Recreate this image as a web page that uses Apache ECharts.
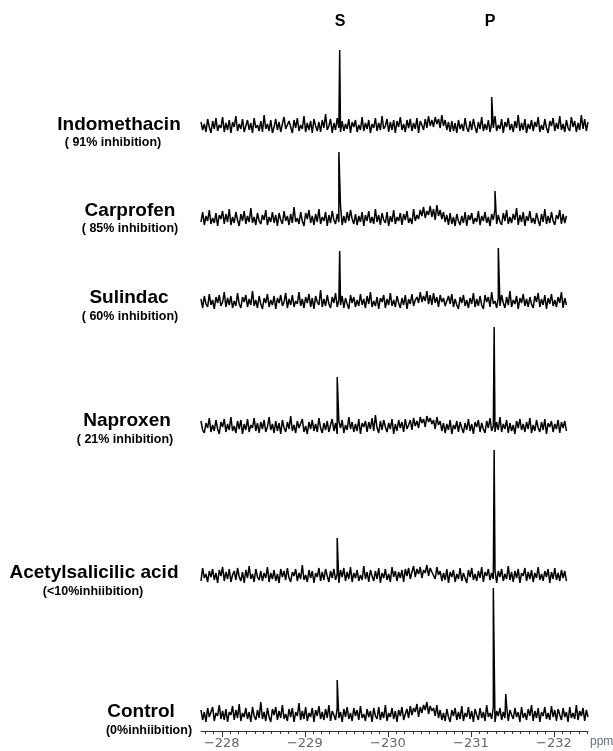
<!DOCTYPE html>
<html>
<head>
<meta charset="utf-8">
<script src="https://cdn.jsdelivr.net/npm/echarts@6/dist/echarts.min.js"></script>
<style>
  html, body { margin: 0; padding: 0; background: #fff; }
  #main { width: 613px; height: 751px; }
</style>
</head>
<body>
<div id="main"></div>
<script>
// chemical shift grid of the noise arrays (ppm)
var ppmStart = -227.75;
var ppmStep = 0.02;

var drugNames = ['Indomethacin', 'Carprofen', 'Sulindac', 'Naproxen', 'Acetylsalicilic acid', 'Control'];
var inhibition = ['( 91% inhibition)', '( 85% inhibition)', '( 60% inhibition)', '( 21% inhibition)', '(<10%inhiibition)', '(0%inhiibition)'];
var tickLabels = [-228, -229, -230, -231, -232];

// baseline noise (intensity units)
var indomethacinNoise = [
  3,-5,1,-7,6,-2,-8,4,-4,7,-6,0,-3,8,-7,2,-5,5,-8,3,
  -2,9,-6,1,-4,6,-7,-1,5,-5,2,-8,7,-3,0,-6,4,-7,10,-4,
  1,-6,5,-8,-2,6,-5,3,-7,1,8,-4,-6,4,-2,-8,5,-3,7,-6,
  0,-4,9,-7,2,-5,4,-8,6,-1,-6,3,-7,5,-3,11,-5,-1,6,-8,
  2,-5,7,-3,-7,4,-6,1,-4,6,-8,3,-2,5,-7,0,-5,8,-6,2,
  -4,5,-8,1,-3,7,-6,2,-5,9,-4,-1,6,-7,3,-5,5,-8,4,-2,
  8,-5,1,-7,5,-3,6,-6,2,-4,7,-8,4,0,-5,6,-3,9,-1,5,
  -2,8,1,6,-3,10,-1,5,-5,3,-7,4,-6,2,-8,5,-4,1,-6,7,
  -3,-7,4,-5,6,-2,-8,3,-4,8,-6,1,-5,5,-7,2,-3,9,-6,0,
  -4,6,-8,3,-2,7,-5,1,-7,4,-3,10,-6,2,-5,6,-8,1,-4,5,
  -6,3,-2,8,-7,0,-5,6,-3,-8,4,-1,7,-6,2,-4,9,-5,1,-7,
  5,-3,-6,8,-2,4,-7,2,-5,10,-4,6,-6,3
];
var carprofenNoise = [
  -4,6,-7,2,-3,8,-6,0,-5,5,-8,3,-1,7,-6,4,-4,9,-7,1,
  -5,6,-2,-8,4,-3,7,-6,2,-4,10,-5,1,-7,5,-3,-6,3,-2,8,
  -7,1,-4,6,-5,3,-8,5,-2,-6,7,-3,2,-7,4,-5,11,-4,0,-6,
  6,-3,-8,5,-1,8,-5,2,-7,4,-4,9,-6,1,-3,6,-8,3,-5,7,
  -2,-6,4,-4,12,-7,2,-5,6,-3,8,-1,-6,4,-7,2,-4,6,-8,3,
  -3,7,-5,1,-6,9,-4,3,-7,5,-2,-5,6,-8,2,-4,8,-6,1,-3,
  5,-7,4,-2,7,-5,0,-6,9,-3,3,-1,8,2,11,0,7,3,12,1,
  9,-2,13,2,8,-1,6,-4,3,-7,5,-6,1,-8,4,-3,-7,2,-5,6,
  -8,3,-2,5,-6,0,-4,7,-7,2,-3,6,-5,1,-8,4,-2,9,-6,3,
  -4,-7,5,-3,8,-6,1,-5,4,-2,10,-7,3,-4,6,-8,2,-3,7,-5,
  0,-6,5,-2,-8,4,-4,9,-6,2,-5,6,-3,-7,3,-1,8,-6,4,-5,
  2
];
var sulindacNoise = [
  2,-7,5,-3,-6,7,-4,1,-8,4,-2,6,-5,-1,9,-6,3,-4,5,-7,
  0,-5,8,-3,-7,4,-1,6,-6,2,-4,10,-5,1,-7,5,-3,-8,3,-2,
  7,-6,1,-4,5,-8,3,-2,6,-5,-1,8,-7,2,-4,6,-6,0,-3,9,
  -5,2,-7,4,-2,7,-6,3,-8,5,-1,-4,11,-6,2,-5,6,-3,-7,4,
  -2,8,-6,1,-4,5,-7,3,-3,-8,6,-2,4,-6,1,-5,7,-4,2,-7,
  5,-3,9,-6,0,-5,4,-8,3,-1,6,-7,2,-4,8,-5,1,-6,5,-2,
  -7,3,-4,6,-8,2,-3,7,-5,1,4,-2,9,-1,5,0,10,-3,6,-4,
  8,-2,4,-6,6,-1,3,-5,-7,5,-3,7,-6,2,-4,-8,4,-2,6,-5,
  1,-7,3,-3,8,-6,2,-5,5,-4,-8,6,-1,4,-6,9,-3,0,-7,3,
  -5,6,-2,-7,4,-4,10,-6,1,-3,5,-8,3,-2,7,-5,2,-6,4,-3,
  -7,5,-1,8,-6,2,-4,6,-8,3,-3,7,-5,1,-6,4,-2,9,-7,3,
  -4
];
var naproxenNoise = [
  5,-4,-7,3,-2,8,-6,1,-5,6,-3,-8,4,-1,7,-6,2,-4,9,-5,
  0,-7,5,-3,6,-8,2,-4,7,-6,1,-2,8,-5,3,-7,4,-3,6,-6,
  -1,9,-4,2,-7,5,-5,3,-8,6,-2,-6,4,-3,10,-5,1,-7,5,-2,
  -4,7,-6,0,-8,4,-3,6,-5,2,-6,8,-2,-7,3,-4,5,-6,1,7,
  -5,3,-8,5,-2,6,-7,1,-4,9,-3,4,-6,2,-5,7,-8,3,-1,5,
  -6,4,-3,8,-5,11,-2,-7,5,-4,6,-1,-6,3,-3,7,-8,2,-5,6,
  -2,4,-6,7,-3,1,6,-4,8,0,5,-2,9,3,7,-1,10,4,8,2,
  6,-3,9,1,5,-5,3,-7,2,-4,6,-8,1,-3,5,-6,4,-2,-7,3,
  -4,7,-5,2,-8,4,-1,6,-6,3,-3,-7,5,-2,8,-5,0,-6,4,-4,
  9,-6,2,-3,6,-7,3,-5,1,-8,5,-2,7,-4,2,-6,4,-3,8,-7,
  1,-5,6,-2,-6,4,-4,7,-8,3,-1,5,-6,2,-3,6,-7,4,-2,5,
  -5
];
var aspirinNoise = [
  -6,7,-3,1,-7,4,-2,6,-5,2,-8,5,-1,8,-6,3,-4,6,-7,0,
  4,-5,7,-2,-6,3,-8,5,-3,9,-4,1,-7,6,-2,-5,4,-6,2,-3,
  8,-7,2,-4,5,-6,1,-8,6,-2,4,-5,7,-3,-7,3,-1,6,-6,2,
  -4,10,-5,0,-7,5,-3,4,-8,2,-2,7,-6,3,-5,6,-1,-7,4,-3,
  6,-5,1,-8,5,-2,7,-6,3,-4,8,-7,2,-3,5,-6,0,-5,9,-4,
  3,-7,5,-1,-6,4,-4,7,-8,2,-3,6,-5,1,-7,8,-2,4,-6,3,
  -3,5,-7,6,-1,7,-4,3,9,-2,6,1,8,-3,5,2,10,-1,7,3,
  5,-4,8,0,4,-6,2,-5,6,-8,3,-2,5,-7,1,-4,7,-6,2,-3,
  -8,5,-2,7,-5,1,-6,4,-3,8,-7,3,-1,6,-5,2,-4,5,-8,4,
  -2,6,-6,1,-4,9,-5,3,-7,4,-3,6,-8,2,-1,7,-6,3,-4,5,
  -7,2,-3,8,-5,1,-6,4,-2,6,-8,3,-4,7,-5,2,-6,5,-3,4,
  -6
];
var controlNoise = [
  4,-6,2,-8,6,-3,-5,7,-7,1,-2,9,-5,3,-6,5,-8,2,-1,8,
  -6,4,-4,10,-7,1,-3,6,-5,2,-8,7,-2,-6,4,-4,12,-5,2,-7,
  6,-3,-8,5,-1,7,-6,3,-4,9,-5,0,-7,5,-3,6,-8,2,-2,11,
  -6,3,-5,7,-7,1,-3,6,-8,4,-2,8,-5,2,-6,5,-4,9,-7,3,
  -1,-6,6,-4,2,-8,5,-3,7,-5,1,-7,6,-2,4,-6,8,-4,0,-7,
  5,-3,3,-8,6,-2,-5,7,-6,2,-4,9,-7,1,-3,6,-5,3,-8,4,
  -2,7,-6,0,5,-4,8,-1,6,2,10,-3,7,1,9,4,12,0,8,3,
  6,-2,9,-4,4,-6,1,-7,5,-3,-8,4,-2,6,-6,2,-5,8,-7,1,
  -3,7,-5,3,-8,5,-1,-6,6,-4,2,-7,9,-3,1,-5,7,-8,3,-2,
  6,-6,2,-4,8,-7,4,-1,-5,6,-3,2,-8,7,-4,1,-6,5,-2,9,
  -7,3,-4,6,-8,2,-2,7,-5,1,-6,8,-3,4,-7,5,-1,-6,6,-3,
  2,-8,7,-4,1,-5,9,-6,3,-2,6,-7,4,-3
];

// peaks: [ppm, height above baseline]
var indomethacinPeaks = [[-229.42, 75], [-231.25, 28]];
var carprofenPeaks = [[-229.41, 66], [-231.29, 27]];
var sulindacPeaks = [[-229.42, 50], [-231.33, 53]];
var naproxenPeaks = [[-229.39, 49], [-231.28, 99]];
var aspirinPeaks = [[-229.39, 37], [-231.28, 125]];
var controlPeaks = [[-229.39, 34], [-231.27, 126], [-231.42, 20]];

var noiseSets = [indomethacinNoise, carprofenNoise, sulindacNoise, naproxenNoise, aspirinNoise, controlNoise];
var peakSets = [indomethacinPeaks, carprofenPeaks, sulindacPeaks, naproxenPeaks, aspirinPeaks, controlPeaks];

// layout: vertical offset of each trace, and label centres
var baselines = [606, 513, 430, 305, 156, 17];
var labelX = [119, 130, 129, 127, 94, 141];
var labelY = [125, 211, 298, 421, 573, 712];
var subX = [113, 130, 130, 125, 93, 149];
var subY = [143, 229, 317, 440, 592, 731];

function buildTrace(noise, peaks, base) {
  var pts = noise.map(function (v, i) {
    return [+(ppmStart - i * ppmStep).toFixed(3), base + v];
  });
  peaks.forEach(function (p) {
    pts.push([p[0], base + p[1]]);
  });
  pts.sort(function (a, b) { return b[0] - a[0]; });
  return pts;
}

var minorTicks = [];
for (var t = -2278; t >= -2324; t--) minorTicks.push(t / 10);

var chart = echarts.init(document.getElementById('main'));

var graphics = [
  { type: 'text', x: 340, y: 22, style: { text: 'S', font: 'bold 16px "Liberation Sans"', fill: '#000', align: 'center', verticalAlign: 'middle' } },
  { type: 'text', x: 490, y: 22, style: { text: 'P', font: 'bold 16px "Liberation Sans"', fill: '#000', align: 'center', verticalAlign: 'middle' } },
  { type: 'text', x: 590, y: 742, style: { text: 'ppm', font: '12px "Liberation Sans"', fill: '#60707f', align: 'left', verticalAlign: 'middle' } }
];
drugNames.forEach(function (name, i) {
  graphics.push({ type: 'text', x: labelX[i], y: labelY[i], style: { text: name, font: 'bold 19px "Liberation Sans"', fill: '#000', align: 'center', verticalAlign: 'middle' } });
  graphics.push({ type: 'text', x: subX[i], y: subY[i], style: { text: inhibition[i], font: 'bold 12.5px "Liberation Sans"', fill: '#000', align: 'center', verticalAlign: 'middle' } });
});

var option = {
  animation: false,
  backgroundColor: '#fff',
  grid: { left: 201, right: 25, top: 0, bottom: 20 },
  xAxis: [
    {
      type: 'value',
      min: -232.41,
      max: -227.75,
      inverse: true,
      position: 'bottom',
      splitLine: { show: false },
      axisLine: { lineStyle: { color: '#333', width: 1 } },
      axisTick: { customValues: tickLabels, length: 6, lineStyle: { color: '#333' } },
      axisLabel: {
        customValues: tickLabels,
        margin: 6,
        color: '#666',
        fontFamily: 'DejaVu Sans',
        fontSize: 13,
        formatter: function (v) { return '\u2212' + Math.abs(v); }
      }
    },
    {
      type: 'value',
      min: -232.41,
      max: -227.75,
      inverse: true,
      position: 'bottom',
      splitLine: { show: false },
      axisLine: { show: false },
      axisTick: { customValues: minorTicks, length: 3, lineStyle: { color: '#333' } },
      axisLabel: { show: false }
    }
  ],
  yAxis: { type: 'value', min: 0, max: 731, show: false },
  graphic: graphics,
  series: noiseSets.map(function (noise, i) {
    return {
      name: drugNames[i],
      type: 'line',
      showSymbol: false,
      symbol: 'none',
      data: buildTrace(noise, peakSets[i], baselines[i]),
      lineStyle: { color: '#000', width: 1.5 }
    };
  })
};

chart.setOption(option);
</script>
</body>
</html>
